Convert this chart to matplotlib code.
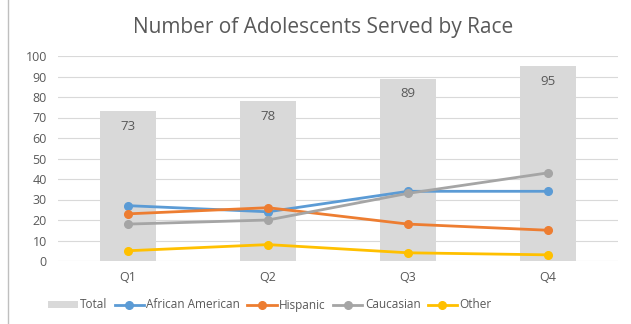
import numpy as np
import matplotlib.pyplot as plt
from matplotlib.lines import Line2D

quarters = ["Q1", "Q2", "Q3", "Q4"]
total = [73, 78, 89, 95]
african_american = [27, 24, 34, 34]
hispanic = [23, 26, 18, 15]
caucasian = [18, 20, 33, 43]
other = [5, 8, 4, 3]

plt.rcParams['font.family'] = ['Open Sans', 'DejaVu Sans']
text_col = "#595959"
grid_col = "#d9d9d9"

fig = plt.figure(figsize=(6.31, 3.24), dpi=100)
ax = fig.add_axes([58 / 631, 1 - 261 / 324, 560 / 631, 205 / 324])

x = np.arange(len(quarters))
ax.bar(x, total, width=0.4, color="#d9d9d9", label="Total", zorder=2)
for xi, v in zip(x, total):
    ax.annotate(str(v), (xi, v), xytext=(0, -11), textcoords="offset points",
                ha="center", va="center", fontsize=9.5, color=text_col, zorder=5)

series = [
    ("African American", african_american, "#5b9bd5"),
    ("Hispanic", hispanic, "#ed7d31"),
    ("Caucasian", caucasian, "#a5a5a5"),
    ("Other", other, "#ffc000"),
]
for name, vals, col in series:
    ax.plot(x, vals, color=col, lw=2, marker="o", ms=5.5, label=name, zorder=3)

ax.set_xlim(-0.5, 3.5)
ax.set_ylim(0, 100)
ax.set_yticks(range(0, 101, 10))
ax.set_xticks(x)
ax.set_xticklabels(quarters)
ax.grid(axis="y", color=grid_col, lw=0.8, zorder=0)
ax.tick_params(length=0, colors=text_col, labelsize=9)
ax.tick_params(axis="x", pad=7)
ax.tick_params(axis="y", pad=8)
for s in ax.spines.values():
    s.set_visible(False)

fig.text(323 / 631, 1 - 28 / 324, "Number of Adolescents Served by Race",
         ha="center", va="center", fontsize=15, color=text_col)

handles, labels = ax.get_legend_handles_labels()
order = [labels.index("Total")] + [i for i, l in enumerate(labels) if l != "Total"]
ax.legend([handles[i] for i in order], [labels[i] for i in order],
          loc="center", bbox_to_anchor=(270 / 631, 1 - 305 / 324),
          bbox_transform=fig.transFigure, ncol=5, frameon=False,
          fontsize=8.5, labelcolor=text_col, handlelength=2.5,
          handleheight=0.5, handletextpad=0.2, columnspacing=0.6)

fig.add_artist(Line2D([8 / 631, 8 / 631], [0, 1], transform=fig.transFigure,
                      color="#bfbfbf", lw=1))

fig.savefig("out.png", dpi=100)
